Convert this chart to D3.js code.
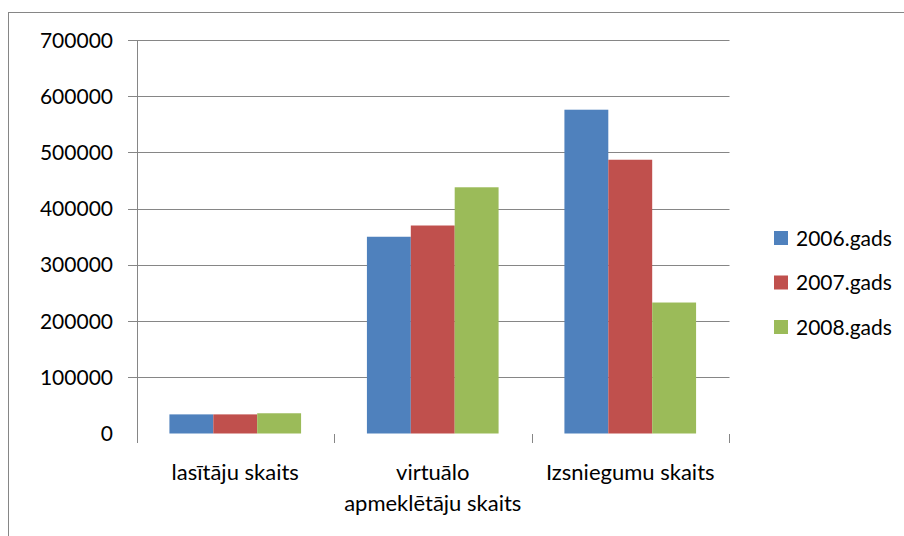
<!DOCTYPE html>
<html>
<head>
<meta charset="utf-8">
<script src="https://cdn.jsdelivr.net/npm/d3@7"></script>
<style>
  body { margin: 0; background: #fff; }
  svg { display: block; font-family: Lato, 'Open Sans', sans-serif; }
</style>
</head>
<body>
<div id="graf"></div>
<script>
// Datos
kategorijas = ['lasītāju skaits', 'virtuālo apmeklētāju skaits', 'Izsniegumu skaits']
kategorijuRindas = [['lasītāju skaits'], ['virtuālo', 'apmeklētāju skaits'], ['Izsniegumu skaits']]
gadi = ['2006.gads', '2007.gads', '2008.gads']
v2006 = [34000, 350000, 576000]
v2007 = [34000, 370000, 487000]
v2008 = [36000, 438000, 233000]
yTicks = [0, 100000, 200000, 300000, 400000, 500000, 600000, 700000]
krasas = ['#4F81BD', '#C0504D', '#9BBB59']

serijas = [v2006, v2007, v2008]

ancho_total = 904
alto_total = 536

svg = d3.select('#graf').append('svg')
  .attr('width', ancho_total)
  .attr('height', alto_total)

// marco exterior (se sale por la derecha y abajo)
svg.append('rect')
  .attr('x', 8.5).attr('y', 12.5)
  .attr('width', 1000).attr('height', 1000)
  .attr('fill', 'none')
  .attr('stroke', '#868686')

// Escaladores
x = d3.scaleBand().domain(kategorijas).range([136.5, 729]).padding(0)
xs = d3.scaleBand().domain(gadi).range([0, x.bandwidth()])
  .paddingInner(0).paddingOuter(0.75)
y = d3.scaleLinear().domain([0, 700000]).range([433.5, 40])

crisp = v => Math.round(v) + 0.5

// rejilla
g = svg.append('g')
g.selectAll('line.grid')
  .data(yTicks.filter(d => d > 0))
  .enter().append('line')
  .attr('class', 'grid')
  .attr('x1', 128).attr('x2', crisp(x.range()[1]))
  .attr('y1', d => crisp(y(d))).attr('y2', d => crisp(y(d)))
  .attr('stroke', '#868686')

// eje y
g.append('line')
  .attr('x1', crisp(x.range()[0])).attr('x2', crisp(x.range()[0]))
  .attr('y1', crisp(y(700000))).attr('y2', 443)
  .attr('stroke', '#868686')

g.selectAll('text.ytick')
  .data(yTicks)
  .enter().append('text')
  .attr('class', 'ytick')
  .attr('x', 113)
  .attr('y', d => y(d))
  .attr('dy', '0.36em')
  .attr('text-anchor', 'end')
  .attr('font-size', '21px')
  .attr('fill', '#000')
  .text(d => d)

// marcas del eje x
limites = kategorijas.map(k => x(k)).concat([x.range()[1]])
g.selectAll('line.xtick')
  .data(limites)
  .enter().append('line')
  .attr('class', 'xtick')
  .attr('x1', d => crisp(d)).attr('x2', d => crisp(d))
  .attr('y1', 434).attr('y2', 443)
  .attr('stroke', '#868686')

// barras
grupos = g.selectAll('g.serie')
  .data(serijas)
  .enter().append('g')
  .attr('class', 'serie')
  .attr('fill', (d, i) => krasas[i])

grupos.selectAll('rect')
  .data((d, i) => d.map((v, j) => ({ v: v, kat: kategorijas[j], gads: gadi[i] })))
  .enter().append('rect')
  .attr('x', d => x(d.kat) + xs(d.gads))
  .attr('width', xs.bandwidth())
  .attr('y', d => y(d.v))
  .attr('height', d => y(0) - y(d.v))

// etiquetas de categorías
etiq = g.selectAll('text.kat')
  .data(kategorijuRindas)
  .enter().append('text')
  .attr('class', 'kat')
  .attr('text-anchor', 'middle')
  .attr('font-size', '22px')
  .attr('fill', '#000')

etiq.selectAll('tspan')
  .data((d, i) => d.map(t => ({ t: t, kat: kategorijas[i] })))
  .enter().append('tspan')
  .attr('x', d => x(d.kat) + x.bandwidth() / 2)
  .attr('y', (d, i) => 480 + i * 31)
  .text(d => d.t)

// leyenda
ley = svg.append('g')
  .selectAll('g')
  .data(gadi)
  .enter().append('g')
  .attr('transform', (d, i) => `translate(774, ${ 238 + i * 44.5 })`)

ley.append('rect')
  .attr('x', 0).attr('y', -7)
  .attr('width', 14).attr('height', 14)
  .attr('fill', (d, i) => krasas[i])

ley.append('text')
  .attr('x', 22)
  .attr('y', 0)
  .attr('dy', '0.36em')
  .attr('font-size', '21px')
  .attr('fill', '#000')
  .text(d => d)
</script>
</body>
</html>
